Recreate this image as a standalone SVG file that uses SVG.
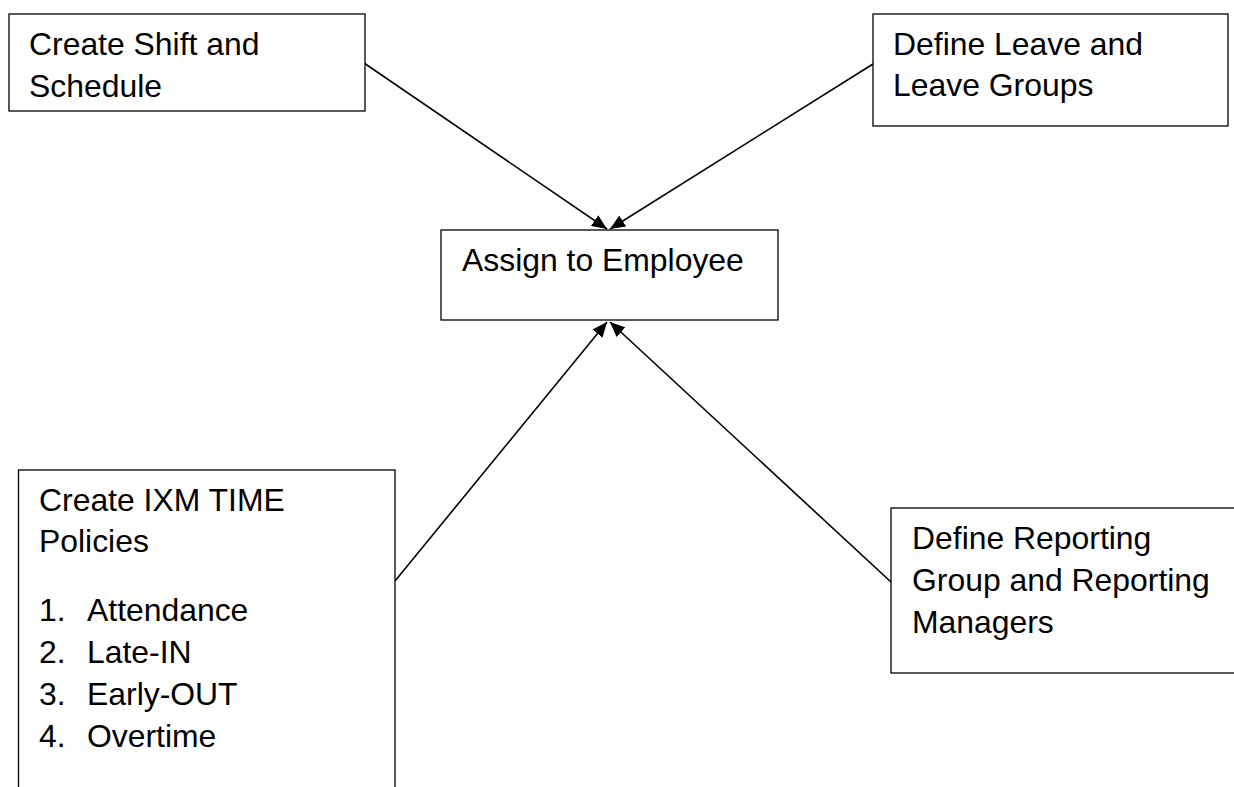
<svg xmlns="http://www.w3.org/2000/svg" width="1234" height="787" viewBox="0 0 1234 787">
<defs>
<style>
.box{fill:#fff;stroke:#000;stroke-width:1.3}
.t{font-family:"Liberation Sans",Arial,sans-serif;font-size:31.9px;fill:#000}
.c{stroke:#000;stroke-width:1.6;fill:none;marker-end:url(#ah)}
</style>
<marker id="ah" viewBox="0 0 15 13" refX="15" refY="6.5" markerWidth="15" markerHeight="13" markerUnits="userSpaceOnUse" orient="auto">
<path d="M0,0 L15,6.5 L0,13 Z" fill="#000"/>
</marker>
</defs>
<rect width="1234" height="787" fill="#fff"/>
<g id="connectors">
<line class="c" x1="364" y1="63" x2="607" y2="229"/>
<line class="c" x1="873" y1="64" x2="610" y2="229"/>
<line class="c" x1="395" y1="581" x2="607" y2="322"/>
<line class="c" x1="891" y1="582" x2="610" y2="322"/>
</g>
<g id="shift">
<rect class="box" x="9" y="14" width="356" height="97"/>
<text class="t" x="29" y="55">Create Shift and</text>
<text class="t" x="29" y="97">Schedule</text>
</g>
<g id="leave">
<rect class="box" x="873" y="14" width="355" height="112"/>
<text class="t" x="893" y="55">Define Leave and</text>
<text class="t" x="893" y="96">Leave Groups</text>
</g>
<g id="assign">
<rect class="box" x="441" y="230" width="337" height="90"/>
<text class="t" x="462" y="271">Assign to Employee</text>
</g>
<g id="policies">
<rect class="box" x="18.5" y="470" width="376.5" height="330"/>
<text class="t" x="39" y="511">Create IXM TIME</text>
<text class="t" x="39" y="552">Policies</text>
<text class="t" x="39" y="621">1.</text><text class="t" x="87" y="621">Attendance</text>
<text class="t" x="39" y="663">2.</text><text class="t" x="87" y="663">Late-IN</text>
<text class="t" x="39" y="705">3.</text><text class="t" x="87" y="705">Early-OUT</text>
<text class="t" x="39" y="747">4.</text><text class="t" x="87" y="747">Overtime</text>
</g>
<g id="reporting">
<rect class="box" x="891" y="508" width="360" height="165"/>
<text class="t" x="912" y="549">Define Reporting</text>
<text class="t" x="912" y="591">Group and Reporting</text>
<text class="t" x="912" y="633">Managers</text>
</g>
</svg>
